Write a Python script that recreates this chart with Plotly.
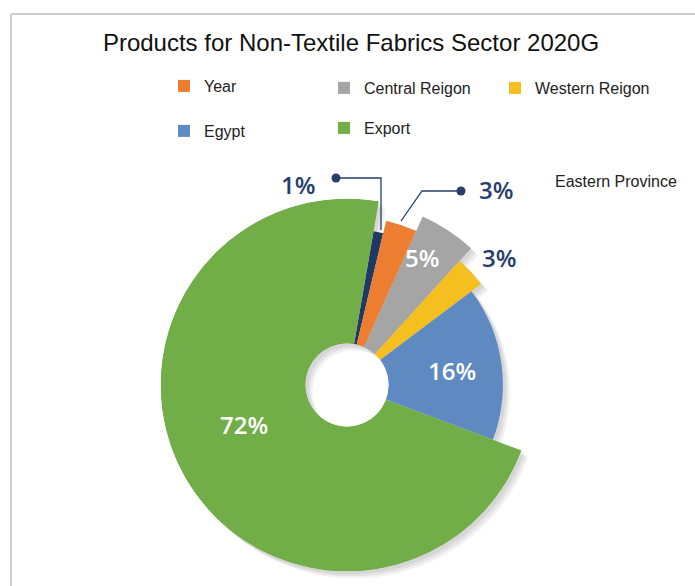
import plotly.graph_objects as go

# Wedge data, clockwise from the top
labels = ["Eastern Province", "Year", "Central Reigon", "Western Reigon", "Egypt", "Export"]
shares = [1, 3, 5, 3, 16, 72]
colors = ["#1F3864", "#ED7D31", "#A5A5A5", "#F5C01F", "#5E8AC1", "#72AE48"]
# outer radius of each wedge as a fraction of the full pie radius
reach = [0.836, 0.906, 0.99, 0.90, 0.836, 1.0]
# legend slot for each series (None = plain text label instead)
legend_slot = [None, "legend", "legend2", "legend3", "legend4", "legend5"]

W, H = 695, 586
CX, CY, R = 347, 385, 186.5          # pie centre and outer radius (px)
HOLE = 41.5 / R
START = 9.8                           # angle of the first wedge edge (deg)

# soft drop shadow: a few faint offset copies under the pie (dx, dy px)
shadow_steps = [(7, 7), (5, 5), (3, 3)]


def px(x, y):
    return x / W, 1 - y / H


def polar_layout(dx, dy):
    x0, y0 = px(CX - R + dx, CY + R + dy)
    x1, y1 = px(CX + R + dx, CY - R + dy)
    return dict(
        domain=dict(x=[x0, x1], y=[y0, y1]),
        hole=HOLE,
        bgcolor="rgba(0,0,0,0)",
        bargap=0,
        radialaxis=dict(range=[0, 1], visible=False),
        angularaxis=dict(rotation=90, direction="clockwise", visible=False),
    )


def wedges(subplot, fill=None, legend=False):
    acc = START
    for lab, v, col, rc, slot in zip(labels, shares, colors, reach, legend_slot):
        span = v * 3.6
        fig.add_trace(go.Barpolar(
            r=[(rc - HOLE) / (1 - HOLE)],
            theta=[acc + span / 2],
            width=[span],
            name=lab,
            subplot=subplot,
            marker=dict(color=fill or col, line=dict(width=0)),
            showlegend=legend and slot is not None,
            legend=slot if slot else "legend",
            hoverinfo="name" if legend else "skip",
        ))
        acc += span


fig = go.Figure()

polars = {}
for i, (dx, dy) in enumerate(shadow_steps):
    key = "polar" if i == 0 else f"polar{i + 1}"
    polars[key] = polar_layout(dx, dy)
    wedges(key, fill="rgba(0,0,0,0.055)")
main = f"polar{len(shadow_steps) + 1}"
polars[main] = polar_layout(0, 0)
wedges(main, legend=True)

fig.update_layout(
    width=W, height=H,
    margin=dict(l=0, r=0, t=0, b=0),
    paper_bgcolor="white",
    font=dict(family="Liberation Sans, Arial, sans-serif", size=16, color="#222"),
    title=dict(text="Products for Non-Textile Fabrics Sector 2020G",
               x=351 / W, xanchor="center", y=1 - 43 / H, yanchor="middle",
               yref="container",
               font=dict(family="Liberation Sans, Arial, sans-serif", size=24, color="#111")),
    **polars,
)

# one single-entry legend per series so each key sits in its own slot
slots = {"legend": (164, 86), "legend2": (324, 88), "legend3": (495, 88),
         "legend4": (164, 131), "legend5": (324, 128)}
for key, (lx, ly) in slots.items():
    fx, fy = px(lx, ly)
    fig.update_layout({key: dict(x=fx, y=fy, xanchor="left", yanchor="middle",
                                 bgcolor="rgba(0,0,0,0)", borderwidth=0,
                                 font=dict(size=16, color="#222"))})

fig.add_annotation(text=labels[0], x=px(553, 182)[0], y=px(553, 182)[1],
                   xref="paper", yref="paper", xanchor="left", yanchor="middle",
                   showarrow=False, font=dict(size=16, color="#222"))

# percentage labels
navy = "#263D6D"
lab_pos = [(298, 185, navy), (496, 190, navy), (422, 257, "white"),
           (499, 257, navy), (452, 370, "white"), (244, 424, "white")]
for v, (lx, ly, c) in zip(shares, lab_pos):
    fx, fy = px(lx, ly)
    fig.add_annotation(text=f"{v}%", x=fx, y=fy, xref="paper", yref="paper",
                       xanchor="center", yanchor="middle", showarrow=False,
                       font=dict(family="Open Sans, sans-serif", size=24,
                                 color=c, weight=600))

# leader lines with end dots
leaders = [[(336, 178), (381, 178), (381, 230)],
           [(461, 191), (422, 191), (401, 221)]]
for pts in leaders:
    path = "M " + " L ".join(f"{px(x, y)[0]},{px(x, y)[1]}" for x, y in pts)
    fig.add_shape(type="path", path=path, xref="paper", yref="paper",
                  line=dict(color=navy, width=1.3))
    dx, dy = pts[0]
    fig.add_shape(type="circle", xref="paper", yref="paper",
                  x0=px(dx - 4.5, dy)[0], x1=px(dx + 4.5, dy)[0],
                  y0=px(dx, dy + 4.5)[1], y1=px(dx, dy - 4.5)[1],
                  fillcolor=navy, line=dict(width=0))

# frame
fig.add_shape(type="line", xref="paper", yref="paper",
              x0=px(11, 14)[0], y0=px(11, 14)[1], x1=1, y1=px(11, 14)[1],
              line=dict(color="#CDCDCD", width=2))
fig.add_shape(type="line", xref="paper", yref="paper",
              x0=px(11, 14)[0], y0=px(11, 14)[1], x1=px(11, 14)[0], y1=0,
              line=dict(color="#CDCDCD", width=2))

fig.write_html("out.html")
